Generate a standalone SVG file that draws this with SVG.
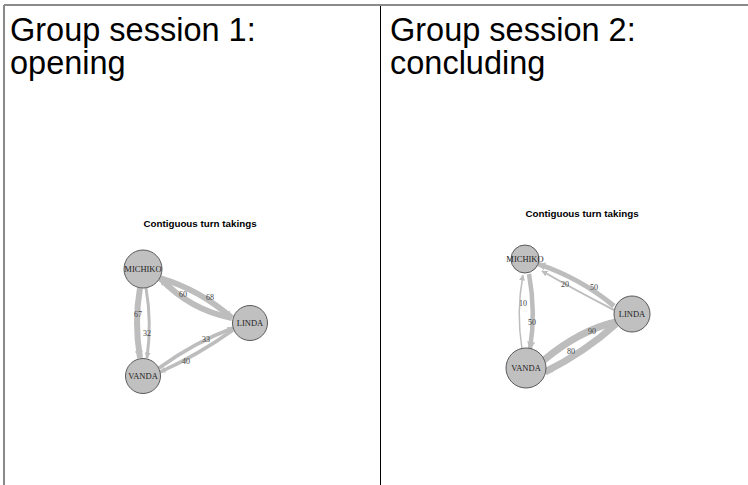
<svg xmlns="http://www.w3.org/2000/svg" width="748" height="485" viewBox="0 0 748 485">
  <style>
    .heading { font-family: "Liberation Sans", Arial, sans-serif; font-size: 32.5px; fill: #000; }
    .plot-title { font-family: "Liberation Sans", Arial, sans-serif; font-size: 9.8px; font-weight: bold; fill: #000; text-anchor: middle; }
    .node circle { fill: #c0c0c0; stroke: #5a5a5a; stroke-width: 1; }
    .node text { font-family: "Liberation Serif", "Times New Roman", serif; font-size: 8.5px; fill: #222; text-anchor: middle; dominant-baseline: central; }
    .edge { fill: none; stroke: #bdbdbd; stroke-linecap: butt; }
    .elabel { font-family: "Liberation Serif", "Times New Roman", serif; font-size: 8px; fill: #444; text-anchor: middle; dominant-baseline: central; }
    .frame-grey { stroke: #8a8a8a; stroke-width: 2; fill: none; }
    .frame-dark { stroke: #000; stroke-width: 1; fill: none; }
  </style>
  <defs>
    <marker id="arrow" viewBox="0 0 10 10" refX="9" refY="5" markerWidth="8" markerHeight="8" orient="auto" markerUnits="userSpaceOnUse">
      <path d="M0,0 L10,5 L0,10 z" fill="#bdbdbd"/>
    </marker>
    <marker id="arrowThin" viewBox="0 0 10 10" refX="9" refY="5" markerWidth="6" markerHeight="6" orient="auto" markerUnits="userSpaceOnUse">
      <path d="M0,0 L10,5 L0,10 z" fill="#bdbdbd"/>
    </marker>
  </defs>

  <rect width="748" height="485" fill="#fff"/>

  <!-- table frame -->
  <g id="frame">
    <line class="frame-grey" x1="4" y1="5" x2="748" y2="5"/>
    <line class="frame-grey" x1="4" y1="5" x2="4" y2="485"/>
    <line class="frame-dark" x1="380.5" y1="6" x2="380.5" y2="485"/>
  </g>

  <!-- cell headings -->
  <g id="heading-1">
    <text class="heading" x="10" y="41">Group session 1:</text>
    <text class="heading" x="10" y="74">opening</text>
  </g>
  <g id="heading-2">
    <text class="heading" x="390" y="41">Group session 2:</text>
    <text class="heading" x="390" y="74">concluding</text>
  </g>

  <!-- ===== Session 1 network ===== -->
  <text class="plot-title" x="200" y="227">Contiguous turn takings</text>

  <g id="edges-1">
    <!-- MICHIKO <-> LINDA -->
    <path class="edge" stroke-width="6" d="M160,278 Q200,290 232,318" marker-end="url(#arrow)"/>
    <path class="edge" stroke-width="6" d="M232,318 Q190,310 160,278" marker-end="url(#arrow)"/>
    <!-- MICHIKO <-> VANDA -->
    <path class="edge" stroke-width="6" d="M140,288 Q134,322 140,358" marker-end="url(#arrow)"/>
    <path class="edge" stroke-width="3" d="M146,288 Q152,322 147,358" marker-end="url(#arrowThin)"/>
    <!-- VANDA <-> LINDA -->
    <path class="edge" stroke-width="3.5" d="M159,368 Q195,342 233,328" marker-end="url(#arrowThin)"/>
    <path class="edge" stroke-width="3.5" d="M233,330 Q198,355 160,372" marker-end="url(#arrowThin)"/>
  </g>
  <g id="edge-labels-1">
    <text class="elabel" x="183" y="294">60</text>
    <text class="elabel" x="210" y="297">68</text>
    <text class="elabel" x="138" y="314">67</text>
    <text class="elabel" x="147" y="333">32</text>
    <text class="elabel" x="206" y="339">33</text>
    <text class="elabel" x="186" y="361">40</text>
  </g>

  <g id="s1-michiko" class="node">
    <circle cx="143" cy="269" r="19"/>
    <text x="143" y="269">MICHIKO</text>
  </g>
  <g id="s1-linda" class="node">
    <circle cx="250" cy="323" r="17.5"/>
    <text x="250" y="323">LINDA</text>
  </g>
  <g id="s1-vanda" class="node">
    <circle cx="143" cy="376" r="17.5"/>
    <text x="143" y="376">VANDA</text>
  </g>

  <!-- ===== Session 2 network ===== -->
  <text class="plot-title" x="582" y="217">Contiguous turn takings</text>

  <g id="edges-2">
    <!-- MICHIKO <-> LINDA -->
    <path class="edge" stroke-width="5" d="M614,306 Q580,278 538,264" marker-end="url(#arrow)"/>
    <path class="edge" stroke-width="2" d="M614,310 Q575,290 542,271" marker-end="url(#arrowThin)"/>
    <!-- MICHIKO <-> VANDA -->
    <path class="edge" stroke-width="1.5" d="M522,349 Q516,312 523,275" marker-end="url(#arrowThin)"/>
    <path class="edge" stroke-width="4.5" d="M529,274 Q536,312 530,349" marker-end="url(#arrow)"/>
    <!-- VANDA <-> LINDA -->
    <path class="edge" stroke-width="7" d="M544,360 Q580,330 616,322" marker-end="url(#arrow)"/>
    <path class="edge" stroke-width="7" d="M616,324 Q585,352 545,372" marker-end="url(#arrow)"/>
  </g>
  <g id="edge-labels-2">
    <text class="elabel" x="565" y="284">20</text>
    <text class="elabel" x="594" y="287">50</text>
    <text class="elabel" x="523" y="303">10</text>
    <text class="elabel" x="532" y="322">50</text>
    <text class="elabel" x="592" y="331">90</text>
    <text class="elabel" x="571" y="351">80</text>
  </g>

  <g id="s2-michiko" class="node">
    <circle cx="525" cy="259" r="14"/>
    <text x="525" y="259">MICHIKO</text>
  </g>
  <g id="s2-linda" class="node">
    <circle cx="632" cy="314" r="18"/>
    <text x="632" y="314">LINDA</text>
  </g>
  <g id="s2-vanda" class="node">
    <circle cx="526" cy="368" r="20"/>
    <text x="526" y="368">VANDA</text>
  </g>
</svg>
